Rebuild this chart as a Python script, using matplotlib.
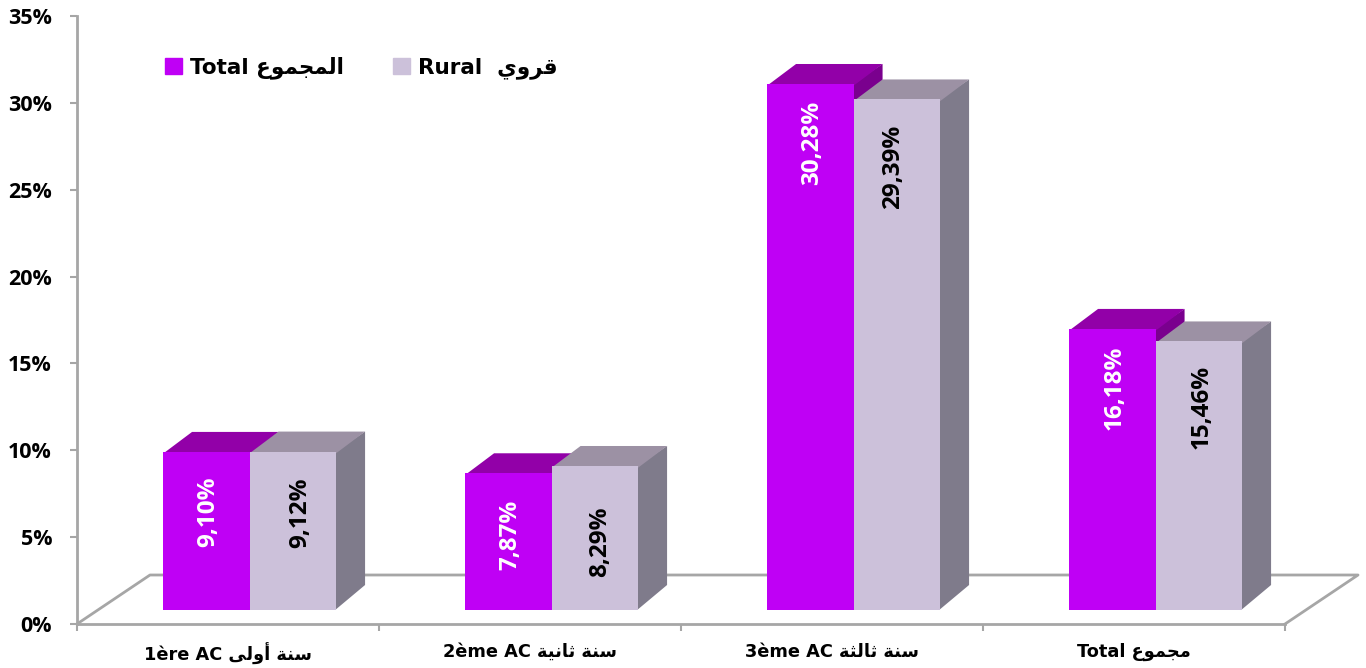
import matplotlib
matplotlib.use('Agg')
import matplotlib.pyplot as plt
from matplotlib.patches import Patch

# data
categories_fr = ['1ère AC', '2ème AC', '3ème AC', 'Total']
categories_ar = ['سنة أولى', 'سنة ثانية', 'سنة ثالثة', 'مجموع']
total_values = [9.10, 7.87, 30.28, 16.18]
rural_values = [9.12, 8.29, 29.39, 15.46]
y_ticks = [0, 5, 10, 15, 20, 25, 30, 35]

# where each value label sits: pixels below the bar top, pixels off the bar centre
total_label_drop = [60, 62, 59, 59]
rural_label_drop = [61, 76, 67, 65]
total_label_nudge = [2, 2, 2, 2]
rural_label_nudge = [7, 5, -4, 3]

# matplotlib does not join arabic letters, so pick the presentation forms here
# letter: isolated, final, initial, medial
forms = {
    'ا': (0xFE8D, 0xFE8E), 'أ': (0xFE83, 0xFE84), 'و': (0xFEED, 0xFEEE),
    'ر': (0xFEAD, 0xFEAE), 'ة': (0xFE93, 0xFE94), 'ى': (0xFEEF, 0xFEF0),
    'ل': (0xFEDD, 0xFEDE, 0xFEDF, 0xFEE0), 'م': (0xFEE1, 0xFEE2, 0xFEE3, 0xFEE4),
    'ج': (0xFE9D, 0xFE9E, 0xFE9F, 0xFEA0), 'ع': (0xFEC9, 0xFECA, 0xFECB, 0xFECC),
    'س': (0xFEB1, 0xFEB2, 0xFEB3, 0xFEB4), 'ن': (0xFEE5, 0xFEE6, 0xFEE7, 0xFEE8),
    'ث': (0xFE99, 0xFE9A, 0xFE9B, 0xFE9C), 'ي': (0xFEF1, 0xFEF2, 0xFEF3, 0xFEF4),
    'ق': (0xFED5, 0xFED6, 0xFED7, 0xFED8),
}


def shape_word(word):
    out = []
    for i, ch in enumerate(word):
        joins_prev = i > 0 and len(forms[word[i - 1]]) == 4
        joins_next = i < len(word) - 1 and len(forms[ch]) == 4
        if joins_prev and joins_next:
            out.append(chr(forms[ch][3]))
        elif joins_prev:
            out.append(chr(forms[ch][1]))
        elif joins_next:
            out.append(chr(forms[ch][2]))
        else:
            out.append(chr(forms[ch][0]))
    return ''.join(out)


def shape_arabic(text):
    return ' '.join(shape_word(w) for w in text.split(' '))[::-1]


fig = plt.figure(figsize=(13.66, 6.68), dpi=100)
ax = fig.add_axes([77 / 1366, 44 / 668, 1208 / 1366, 608 / 668])
ax.set_xlim(-0.5, 3.5)
ax.set_ylim(0, 35)

px_x = 4 / 1208
px_y = 35 / 608
bar_w = 86.5 * px_x
base = 14 * px_y
dx = 29 * px_x
dy_top = 20 * px_y
dy_bottom = 25 * px_y
grey = '#A6A6A6'

# floor of the fake 3d box
floor_back = 49 * px_y
ax.plot([-0.5, -0.5 + 73 * px_x, 3.5 + 73 * px_x, 3.5], [0, floor_back, floor_back, 0],
        color=grey, lw=2, clip_on=False, zorder=1)


def draw_bars(offset, values, front, top, side, z):
    for i, v in enumerate(values):
        left = i + offset
        right = left + bar_w
        y0 = base + v - 0.1  # runs a little under the front face, no seam
        ax.fill([right - 0.003, right + dx, right + dx, right - 0.003],
                [base, base + dy_bottom, base + v + dy_top, base + v],
                color=side, lw=0, clip_on=False, zorder=z)
        ax.fill([left, left + dx, right + dx, right],
                [y0, base + v + dy_top, base + v + dy_top, y0],
                color=top, lw=0, clip_on=False, zorder=z)
    ax.bar([i + offset for i in range(len(values))], values, width=bar_w, bottom=base,
           align='edge', color=front, lw=0, zorder=z + 0.5)


draw_bars(-0.215, total_values, '#BF00F5', '#9200A8', '#7A008E', 2)
draw_bars(-0.215 + bar_w, rural_values, '#CCC1DA', '#9C91A4', '#7F7B8B', 3)

# value labels, written inside the bars
for i in range(4):
    ax.annotate(f'{total_values[i]:.2f}%'.replace('.', ','),
                (i - 0.215 + bar_w / 2, base + total_values[i]),
                xytext=(total_label_nudge[i] * 0.72, -total_label_drop[i] * 0.72),
                textcoords='offset points',
                rotation=90, ha='center', va='center', color='white',
                family='Open Sans', weight='bold', fontsize=17.5, zorder=5)
    ax.annotate(f'{rural_values[i]:.2f}%'.replace('.', ','),
                (i - 0.215 + bar_w * 1.5, base + rural_values[i]),
                xytext=(rural_label_nudge[i] * 0.72, -rural_label_drop[i] * 0.72),
                textcoords='offset points',
                rotation=90, ha='center', va='center', color='black',
                family='Open Sans', weight='bold', fontsize=17.5, zorder=5)

# axes
for s in ['top', 'right']:
    ax.spines[s].set_visible(False)
for s in ['left', 'bottom']:
    ax.spines[s].set_color(grey)
    ax.spines[s].set_linewidth(2)
ax.patch.set_visible(False)
ax.set_yticks(y_ticks)
ax.set_yticklabels([f'{t}%' for t in y_ticks], family='Open Sans', weight='bold', fontsize=15.5)
ax.tick_params(axis='y', color=grey, width=1.5, length=5, pad=13)
ax.set_xticks([-0.5, 0.5, 1.5, 2.5, 3.5])
ax.set_xticklabels([])
ax.tick_params(axis='x', which='major', color=grey, width=1.5, length=5)
ax.set_xticks(range(4), minor=True)
ax.set_xticklabels([f + ' ' + shape_arabic(a) for f, a in zip(categories_fr, categories_ar)],
                   minor=True, family='DejaVu Sans', weight='bold', fontsize=12.8)
ax.tick_params(axis='x', which='minor', length=0, pad=13.5)

# legend
handles = [Patch(color='#BF00F5'), Patch(color='#CCC1DA')]
labels = ['Total ' + shape_arabic('المجموع'), 'Rural  ' + shape_arabic('قروي')]
ax.legend(handles, labels, ncol=2, frameon=False, loc='upper left',
          bbox_to_anchor=(0.073, 0.933), borderaxespad=0, borderpad=0,
          handlelength=0.79, handleheight=0.79, handletextpad=0.37, columnspacing=2.28,
          prop={'family': 'DejaVu Sans', 'weight': 'bold', 'size': 15.5})

fig.savefig('out.png', dpi=100)
